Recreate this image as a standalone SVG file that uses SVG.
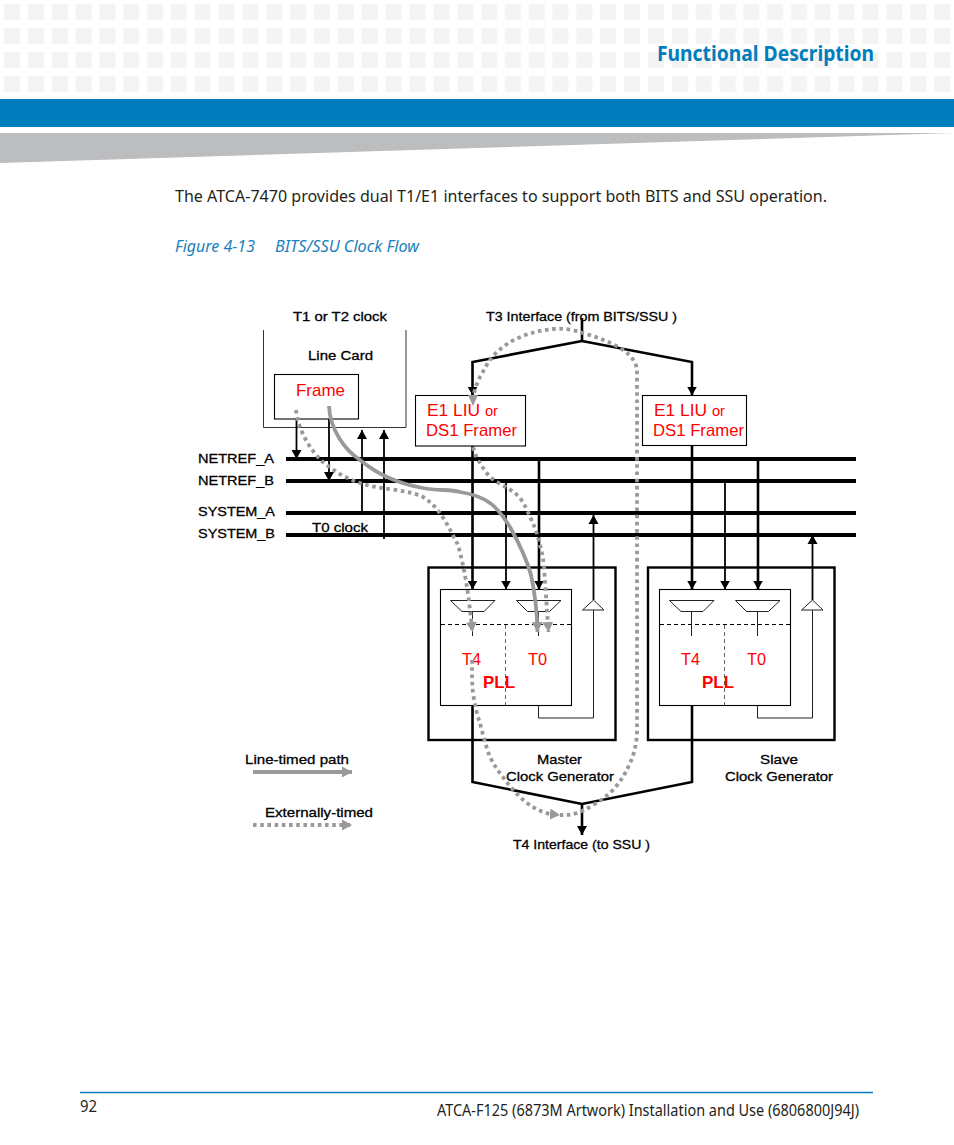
<svg xmlns="http://www.w3.org/2000/svg" width="954" height="1145" viewBox="0 0 954 1145">
<style>
text{font-family:"Liberation Sans",Arial,sans-serif}
.pg{font-family:"Noto Sans","Open Sans",sans-serif;fill:#231f20}
.lb{font-size:13.5px;fill:#000;stroke:#000;stroke-width:.3}
.rd{font-size:16.5px;fill:#f00}
.bus{stroke:#000;stroke-width:4;fill:none}
.k{stroke:#000;stroke-width:2.6;fill:none}
.k2{stroke:#000;stroke-width:1.8;fill:none}
.thin{stroke:#222;stroke-width:1;fill:none}
.box{fill:#fff;stroke:#000;stroke-width:1.1}
.outer{fill:#fff;stroke:#000;stroke-width:2.4}
.solid{stroke:#999;stroke-width:3.8;fill:none}
.dot{stroke:#999;stroke-width:3.8;fill:none;stroke-dasharray:3.6 3.6}
</style>
<defs>
<pattern id="sq" patternUnits="userSpaceOnUse" x="4" y="4" width="23.85" height="24"><rect width="16" height="16" fill="#f4f4f4"/></pattern>
<marker id="ak" markerUnits="userSpaceOnUse" markerWidth="11" markerHeight="11" refX="9" refY="5.5" orient="auto"><path d="M0 0.5L9 5.5L0 10.5Z" fill="#000"/></marker>
<marker id="ag" markerUnits="userSpaceOnUse" markerWidth="12" markerHeight="12" refX="10" refY="6" orient="auto"><path d="M0 0.500L10 6L0 11.500Z" fill="#999"/></marker>
</defs>
<g id="page-header">
<rect x="0" y="4" width="954" height="88" fill="url(#sq)"/>
<rect x="0" y="99" width="954" height="28" fill="#007dbd"/>
<polygon points="0,133 954,133 0,163" fill="#bcbdbf"/>
<text x="657" y="61" font-size="21.5" font-weight="700" fill="#007dbd" style="font-family:'Noto Sans','Open Sans',sans-serif" textLength="217" lengthAdjust="spacingAndGlyphs">Functional Description</text>
</g>
<g id="page-text">
<text class="pg" x="175" y="202" font-size="16.5" textLength="652" lengthAdjust="spacingAndGlyphs">The ATCA-7470 provides dual T1/E1 interfaces to support both BITS and SSU operation.</text>
<text class="pg" x="175" y="252" font-size="16.5" font-style="italic" style="fill:#1b81bd" textLength="80" lengthAdjust="spacingAndGlyphs">Figure 4-13</text>
<text class="pg" x="275" y="252" font-size="16.5" font-style="italic" style="fill:#1b81bd" textLength="144" lengthAdjust="spacingAndGlyphs">BITS/SSU Clock Flow</text>
</g>
<g id="line-card">
<path d="M263.500 330V427.500H406V330" fill="none" stroke="#333" stroke-width="1"/>
<text class="lb" x="293" y="321" textLength="94" lengthAdjust="spacingAndGlyphs">T1 or T2 clock</text>
<text class="lb" x="308" y="360" textLength="65" lengthAdjust="spacingAndGlyphs">Line Card</text>
</g>
<g id="frame"><rect class="box" x="274.500" y="374.500" width="84" height="44.500"/><text class="rd" x="296" y="396" textLength="49" lengthAdjust="spacingAndGlyphs">Frame</text></g>
<g id="bus-labels">
<text class="lb" x="198" y="463" textLength="76" lengthAdjust="spacingAndGlyphs">NETREF_A</text>
<text class="lb" x="198" y="485" textLength="76" lengthAdjust="spacingAndGlyphs">NETREF_B</text>
<text class="lb" x="198" y="516" textLength="77" lengthAdjust="spacingAndGlyphs">SYSTEM_A</text>
<text class="lb" x="198" y="538" textLength="77" lengthAdjust="spacingAndGlyphs">SYSTEM_B</text>
<text class="lb" x="312" y="532" textLength="56" lengthAdjust="spacingAndGlyphs">T0 clock</text>
</g>
<g id="master-clock-generator">
<rect class="outer" x="428.500" y="567.500" width="187" height="172.500"/>
<rect class="box" x="440.500" y="589.500" width="131" height="116"/>
<path class="thin" d="M450.500 600.500H495L484 611.500H462ZM516.500 600.500H561L549.500 611.500H527.500Z"/>
<path class="thin" d="M593.500 600L582.500 610H604ZM593.500 610V718H538.500V705.500"/>
<path d="M441 624.500H571" stroke="#000" stroke-width="1" stroke-dasharray="4 3" fill="none"/>
<path d="M505.500 625V705" stroke="#666" stroke-width="1" stroke-dasharray="4 3" fill="none"/>
<path class="thin" d="M472.500 611V636M538.500 611V636"/>
<text class="rd" x="462" y="665" textLength="19" lengthAdjust="spacingAndGlyphs">T4</text>
<text class="rd" x="528" y="665" textLength="19" lengthAdjust="spacingAndGlyphs">T0</text>
<text class="rd" x="483" y="688" font-weight="700" textLength="32" lengthAdjust="spacingAndGlyphs">PLL</text>
<text class="lb" x="537" y="764" textLength="45" lengthAdjust="spacingAndGlyphs">Master</text>
<text class="lb" x="506" y="781" textLength="108" lengthAdjust="spacingAndGlyphs">Clock Generator</text>
</g>
<g id="slave-clock-generator">
<rect class="outer" x="648" y="567.500" width="186.500" height="172.500"/>
<rect class="box" x="659.500" y="589.500" width="131" height="116"/>
<path class="thin" d="M669.500 600.500H714L703 611.500H681ZM735.500 600.500H780L768.500 611.500H746.500Z"/>
<path class="thin" d="M812.500 600L801.500 610H823ZM812.500 610V718H757.500V705.500"/>
<path d="M660 624.500H790" stroke="#000" stroke-width="1" stroke-dasharray="4 3" fill="none"/>
<path d="M724.500 625V705" stroke="#666" stroke-width="1" stroke-dasharray="4 3" fill="none"/>
<path class="thin" d="M691.500 611V636M757.500 611V636"/>
<text class="rd" x="681" y="665" textLength="19" lengthAdjust="spacingAndGlyphs">T4</text>
<text class="rd" x="747" y="665" textLength="19" lengthAdjust="spacingAndGlyphs">T0</text>
<text class="rd" x="702" y="688" font-weight="700" textLength="32" lengthAdjust="spacingAndGlyphs">PLL</text>
<text class="lb" x="760" y="764" textLength="38" lengthAdjust="spacingAndGlyphs">Slave</text>
<text class="lb" x="725" y="781" textLength="108" lengthAdjust="spacingAndGlyphs">Clock Generator</text>
</g>
<g id="e1-liu-master"><rect class="box" x="415.500" y="395.500" width="110" height="50.500"/>
<text class="rd" x="427" y="416" textLength="71" lengthAdjust="spacingAndGlyphs">E1 LIU <tspan font-size="14">or</tspan></text>
<text class="rd" x="426" y="436" textLength="91" lengthAdjust="spacingAndGlyphs">DS1 Framer</text></g>
<g id="e1-liu-slave"><rect class="box" x="642.500" y="395.500" width="104" height="50"/>
<text class="rd" x="654" y="416" textLength="71" lengthAdjust="spacingAndGlyphs">E1 LIU <tspan font-size="14">or</tspan></text>
<text class="rd" x="653" y="436" textLength="91" lengthAdjust="spacingAndGlyphs">DS1 Framer</text></g>
<g id="interface-labels">
<text class="lb" x="486" y="321" textLength="191" lengthAdjust="spacingAndGlyphs">T3 Interface (from BITS/SSU )</text>
<text class="lb" x="513" y="849" textLength="137" lengthAdjust="spacingAndGlyphs">T4 Interface (to SSU )</text>
</g>
<g id="connectors">
<path class="bus" d="M286 459H856M286 481H856M286 513H856M286 535H856"/>
<path class="k" d="M582 318V341"/>
<path class="k" d="M582 341L472.500 362V395.500" marker-end="url(#ak)"/>
<path class="k" d="M582 341L692 362V395.500" marker-end="url(#ak)"/>
<path class="k" d="M472.500 446V589.500" marker-end="url(#ak)"/>
<path class="k" d="M539 459V589.500" marker-end="url(#ak)"/>
<path class="k2" d="M506 481V589.500" marker-end="url(#ak)"/>
<path class="k" d="M692 445.500V589.500" marker-end="url(#ak)"/>
<path class="k" d="M758 459V589.500" marker-end="url(#ak)"/>
<path class="k2" d="M725 481V589.500" marker-end="url(#ak)"/>
<path class="k2" d="M296.500 419V459" marker-end="url(#ak)"/>
<path class="k2" d="M329 419V481" marker-end="url(#ak)"/>
<path class="k2" d="M362 513V430" marker-end="url(#ak)"/>
<path class="k2" d="M384 539V430" marker-end="url(#ak)"/>
<path class="k2" d="M593.500 600V515" marker-end="url(#ak)"/>
<path class="k2" d="M812.500 600V535" marker-end="url(#ak)"/>
<path class="k" d="M472.500 705.500V782L582 804L692 782V705.500"/>
<path class="k" d="M582 804V835" marker-end="url(#ak)"/>
<path class="solid" d="M329 406C330 430 345 450 360 460C370 468 378 473 387 477C400 483 412 486 423 488C438 491 450 489 460 492C472 494 482 497 490 503C500 510 505 520 510 527C520 545 527 560 531 575C535 593 537 610 537.500 632" marker-end="url(#ag)"/>
<path class="dot" d="M296 410C298 430 310 450 323 462C335 472 350 481 367 485C380 489 410 490 423 497C440 507 450 530 457 543C462 555 468 590 470 610L472.500 632" marker-end="url(#ag)"/>
<path class="dot" d="M473 400C474 390 477 383 480 377C484 370 487 364 490 360C498 349 510 341 523 336C533 332 543 330 553 329C565 328 575 330 583 333C597 337 610 342 620 348C627 352 632 357 635 363C637 367 637 370 637 373V735C636 745 634 755 630 763C625 775 620 782 613 790C606 797 600 801 593 805C587 809 582 811 577 813C571 815 566 815 560 815"/>
<polygon points="468,395 478,395 473,406" fill="#999"/>
<path class="dot" d="M473 447C475 455 478 460 480 463C485 472 490 478 497 482C505 487 513 490 520 498C525 505 528 512 530 517C534 525 536 531 538 537C541 550 543 555 544 567L548.500 632" marker-end="url(#ag)"/>
<path class="dot" d="M472 660C472 675 472 685 473 693C475 705 477 715 480 723C483 735 486 747 490 757C494 765 498 771 503 777C510 787 518 796 527 803C535 809 542 812 550 814L560 815" marker-end="url(#ag)"/>
</g>
<g id="legend">
<text class="lb" x="245" y="764" textLength="104" lengthAdjust="spacingAndGlyphs">Line-timed path</text>
<path class="solid" d="M253 772H352" marker-end="url(#ag)"/>
<text class="lb" x="265" y="817" textLength="108" lengthAdjust="spacingAndGlyphs">Externally-timed</text>
<path class="dot" d="M253 825H352" marker-end="url(#ag)"/>
</g>
<g id="page-footer">
<path d="M80 1092.500H873" stroke="#007dbd" stroke-width="1.300"/>
<text class="pg" x="80" y="1112" font-size="15.500" textLength="17" lengthAdjust="spacingAndGlyphs">92</text>
<text class="pg" x="437" y="1116" font-size="15.500" textLength="422" lengthAdjust="spacingAndGlyphs">ATCA-F125 (6873M Artwork) Installation and Use (6806800J94J)</text>
</g>
</svg>
